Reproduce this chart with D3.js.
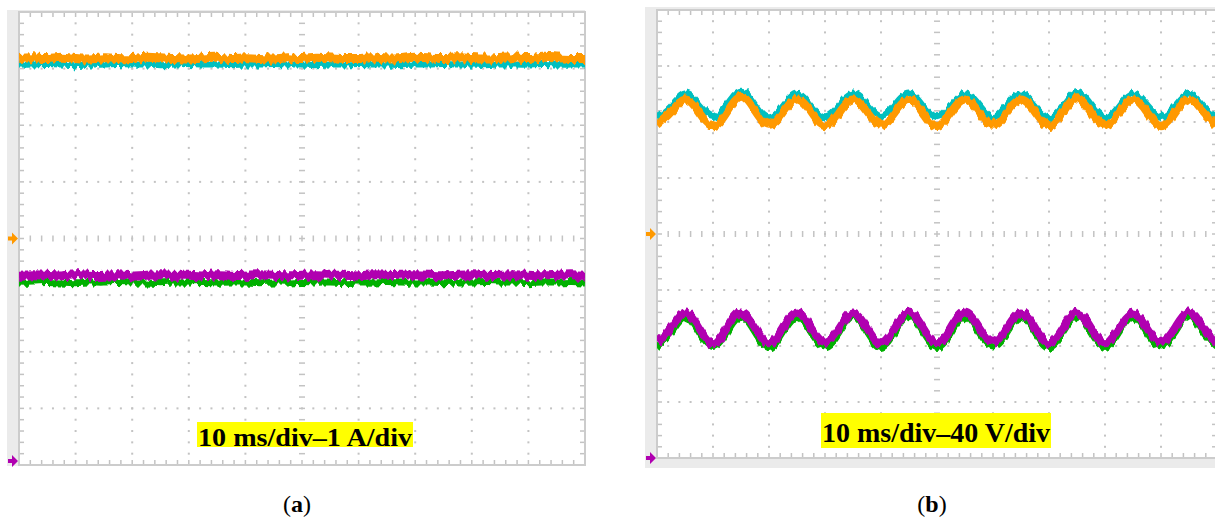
<!DOCTYPE html>
<html>
<head>
<meta charset="utf-8">
<script src="https://cdn.jsdelivr.net/npm/d3@7"></script>
<style>
  html, body { margin: 0; padding: 0; background: #fff; }
  svg { display: block; }
</style>
</head>
<body>
<script>
// Sampling instants, ms (10 ms/div, 10 divisions)
const timeMs = [0,2.5,5,7.5,10,12.5,15,17.5,20,22.5,25,27.5,30,32.5,35,37.5,40,42.5,45,47.5,
  50,52.5,55,57.5,60,62.5,65,67.5,70,72.5,75,77.5,80,82.5,85,87.5,90,92.5,95,97.5,100];

// (a) currents, A (1 A/div)
const aOrange  = [3.18,3.19,3.18,3.20,3.18,3.17,3.19,3.18,3.18,3.20,3.19,3.18,3.17,3.19,3.20,3.18,3.19,3.18,3.17,3.19,
  3.18,3.20,3.19,3.18,3.18,3.19,3.17,3.18,3.20,3.19,3.18,3.19,3.18,3.17,3.18,3.19,3.18,3.20,3.19,3.18,3.18];
const aTeal    = [3.08,3.08,3.09,3.08,3.07,3.08,3.08,3.09,3.08,3.08,3.07,3.08,3.09,3.08,3.08,3.07,3.08,3.08,3.09,3.08,
  3.08,3.07,3.08,3.08,3.09,3.08,3.08,3.07,3.08,3.08,3.09,3.08,3.08,3.07,3.08,3.08,3.08,3.09,3.08,3.08,3.08];
const aMagenta = [3.28,3.29,3.28,3.27,3.29,3.28,3.28,3.29,3.27,3.28,3.29,3.28,3.28,3.27,3.29,3.28,3.28,3.29,3.28,3.27,
  3.28,3.29,3.28,3.28,3.27,3.29,3.28,3.28,3.29,3.28,3.27,3.28,3.29,3.28,3.28,3.29,3.28,3.27,3.28,3.29,3.28];
const aGreen   = [3.16,3.16,3.17,3.16,3.15,3.16,3.16,3.17,3.16,3.16,3.15,3.16,3.16,3.17,3.16,3.16,3.16,3.15,3.16,3.16,
  3.17,3.16,3.16,3.15,3.16,3.16,3.17,3.16,3.16,3.16,3.15,3.16,3.16,3.17,3.16,3.16,3.15,3.16,3.16,3.17,3.16];

// (b) voltages, V (40 V/div), 100 Hz ripple
const bTeal    = [83,91,100,92,84,92,102,92,83,91,100,91,83,91,100,92,84,92,100,91,
  83,91,100,92,83,92,100,91,83,91,101,92,83,91,100,92,84,91,100,91,83];
const bOrange  = [78,87,96,87,77,87,98,88,78,87,96,87,77,87,96,87,78,87,96,87,
  77,87,96,87,78,87,96,87,77,87,97,87,78,87,96,87,77,87,96,87,77];
const bMagenta = [83,93,104,93,82,93,104,93,82,93,104,93,83,93,104,93,82,93,104,93,
  82,93,104,93,83,93,104,93,82,93,104,93,82,93,104,93,83,93,104,93,82];
const bGreen   = [80,90,101,90,79,90,101,90,79,90,101,90,80,90,101,90,79,90,101,90,
  79,90,101,90,80,90,101,90,79,90,101,90,79,90,101,90,80,90,101,90,79];

const scaleLabels = ["10 ms/div\u20131 A/div", "10 ms/div\u201340 V/div"];
const panelCaptions = ["a", "b"];

const colors = { orange: "#ff9900", teal: "#00bfbf", magenta: "#b000b0", green: "#00b000" };

const W = 1215, H = 520;
const svg = d3.select("body").append("svg").attr("width", W).attr("height", H);
svg.append("rect").attr("width", W).attr("height", H).attr("fill", "#fff");

// jagged acquisition noise on the traces (vertical displacement only)
const defs = svg.append("defs");
[3, 7, 11, 17].forEach((seed, i) => {
  const f = defs.append("filter").attr("id", "grain" + i)
    .attr("filterUnits", "userSpaceOnUse").attr("x", 0).attr("y", 0)
    .attr("width", W).attr("height", H)
    .attr("color-interpolation-filters", "sRGB");
  f.append("feTurbulence").attr("type", "fractalNoise")
    .attr("baseFrequency", "0.3 0.03").attr("numOctaves", 1).attr("seed", seed).attr("result", "n");
  f.append("feColorMatrix").attr("in", "n").attr("type", "matrix")
    .attr("values", "1 0 0 0 0  0 0 0 0 0.5  0 0 0 0 0  0 0 0 0 1").attr("result", "m");
  f.append("feDisplacementMap").attr("in", "SourceGraphic").attr("in2", "m")
    .attr("scale", 10).attr("xChannelSelector", "G").attr("yChannelSelector", "R");
});

const panels = [
  { key: "a", perDiv: 1, l: 19, r: 585, t: 12, b: 465,
    frame: { x: 7, y: 10, w: 578, h: 456 }, lowRef: -3.93,
    traces: [[aTeal, colors.teal, 7, 0, 0], [aOrange, colors.orange, 9, 0, 1],
             [aGreen, colors.green, 7, 1, 2], [aMagenta, colors.magenta, 9, 1, 3]],
    label: { x: 197, y: 422, w: 216, h: 25, size: 25, base: 446 },
    caption: { x: 297, y: 512 } },
  { key: "b", perDiv: 40, l: 657, r: 1217, t: 10, b: 458,
    frame: { x: 645, y: 7, w: 580, h: 461 }, lowRef: -4,
    traces: [[bTeal, colors.teal, 7, 0, 0], [bOrange, colors.orange, 8, 0, 1],
             [bGreen, colors.green, 7, 1, 2], [bMagenta, colors.magenta, 8, 1, 3]],
    label: { x: 821, y: 413, w: 230, h: 35, size: 28, base: 442 },
    caption: { x: 932, y: 512 } }
];

const gridCol = "#c3c3c3";

panels.forEach((p, pi) => {
  const g = svg.append("g");
  const x = d3.scaleLinear().domain([0, 100]).range([p.l, p.r]);
  const y = d3.scaleLinear().domain([-4 * p.perDiv, 4 * p.perDiv]).range([p.b, p.t]);

  g.append("rect").attr("x", p.frame.x).attr("y", p.frame.y)
    .attr("width", p.frame.w).attr("height", p.frame.h).attr("fill", "#ebebeb");
  g.append("rect").attr("x", p.l).attr("y", p.t)
    .attr("width", p.r - p.l).attr("height", p.b - p.t).attr("fill", "#fff");

  const minorX = d3.range(0, 51).map(i => i * 2);              // 2 ms steps
  const minorY = d3.range(-20, 21).map(i => i * 0.2 * p.perDiv); // 0.2 div steps
  const majorX = d3.range(0, 11).map(i => i * 10);
  const majorY = d3.range(-4, 5).map(i => i * p.perDiv);

  // dotted graticule
  majorX.filter(v => v !== 0 && v !== 100 && v !== 50).forEach(mx => {
    minorY.slice(1, -1).forEach(my => {
      g.append("rect").attr("x", x(mx) - 1).attr("y", y(my) - 1)
        .attr("width", 2).attr("height", 2).attr("fill", gridCol);
    });
  });
  majorY.filter(v => v !== 0 && Math.abs(v) !== 4 * p.perDiv).forEach(my => {
    minorX.slice(1, -1).forEach(mx => {
      g.append("rect").attr("x", x(mx) - 1).attr("y", y(my) - 1)
        .attr("width", 2).attr("height", 2).attr("fill", gridCol);
    });
  });
  // centre axes with tick dashes
  minorX.slice(1, -1).forEach(mx => {
    g.append("line").attr("x1", x(mx)).attr("x2", x(mx))
      .attr("y1", y(0) - 3).attr("y2", y(0) + 3)
      .attr("stroke", gridCol).attr("stroke-width", 1.5);
  });
  minorY.slice(1, -1).forEach(my => {
    g.append("line").attr("x1", x(50) - 3).attr("x2", x(50) + 3)
      .attr("y1", y(my)).attr("y2", y(my))
      .attr("stroke", gridCol).attr("stroke-width", 1.5);
  });
  // border ticks
  minorX.slice(1, -1).forEach(mx => {
    g.append("line").attr("x1", x(mx)).attr("x2", x(mx)).attr("y1", p.t).attr("y2", p.t + 5)
      .attr("stroke", gridCol).attr("stroke-width", 1.5);
    g.append("line").attr("x1", x(mx)).attr("x2", x(mx)).attr("y1", p.b).attr("y2", p.b - 5)
      .attr("stroke", gridCol).attr("stroke-width", 1.5);
  });
  minorY.slice(1, -1).forEach(my => {
    g.append("line").attr("x1", p.l).attr("x2", p.l + 5).attr("y1", y(my)).attr("y2", y(my))
      .attr("stroke", gridCol).attr("stroke-width", 1.5);
    g.append("line").attr("x1", p.r).attr("x2", p.r - 5).attr("y1", y(my)).attr("y2", y(my))
      .attr("stroke", gridCol).attr("stroke-width", 1.5);
  });
  g.append("rect").attr("x", p.l).attr("y", p.t)
    .attr("width", p.r - p.l).attr("height", p.b - p.t)
    .attr("fill", "none").attr("stroke", "#cccccc").attr("stroke-width", 2);

  // traces
  const clipId = "clip-" + p.key;
  defs.append("clipPath").attr("id", clipId).append("rect")
    .attr("x", p.l).attr("y", p.t).attr("width", p.r - p.l).attr("height", p.b - p.t);
  const tg = g.append("g").attr("clip-path", `url(#${clipId})`);
  p.traces.forEach(([vals, col, sw, low, fi]) => {
    const off = low ? p.lowRef * p.perDiv : 0;
    const line = d3.line()
      .x((d, i) => x(timeMs[i]))
      .y(d => y(d + off))
      .curve(d3.curveNatural);
    tg.append("path").datum(vals).attr("d", line)
      .attr("fill", "none").attr("stroke", col).attr("stroke-width", sw)
      .attr("filter", `url(#grain${fi})`);
  });

  // channel reference markers
  const marker = "M0,0 L-6,-6 L-6,-2 L-10,-2 L-10,2 L-6,2 L-6,6 Z";
  g.append("path").attr("d", marker)
    .attr("transform", `translate(${p.l - 1},${y(0)})`).attr("fill", colors.orange);
  g.append("path").attr("d", marker)
    .attr("transform", `translate(${p.l - 1},${y(p.lowRef * p.perDiv)})`).attr("fill", colors.magenta);

  // scale label
  g.append("rect").attr("x", p.label.x).attr("y", p.label.y)
    .attr("width", p.label.w).attr("height", p.label.h).attr("fill", "#ffff00");
  g.append("text").attr("x", p.label.x + 1).attr("y", p.label.base)
    .attr("font-family", "'Liberation Serif', 'DejaVu Serif', serif")
    .attr("font-weight", "bold").attr("font-size", p.label.size)
    .attr("textLength", p.label.w - 2).attr("lengthAdjust", "spacingAndGlyphs")
    .attr("fill", "#000").text(scaleLabels[pi]);

  // panel caption
  const cap = svg.append("text").attr("x", p.caption.x).attr("y", p.caption.y)
    .attr("text-anchor", "middle")
    .attr("font-family", "'Liberation Serif', 'DejaVu Serif', serif")
    .attr("font-size", 24).attr("fill", "#000");
  cap.append("tspan").text("(");
  cap.append("tspan").attr("font-weight", "bold").text(panelCaptions[pi]);
  cap.append("tspan").text(")");
});
</script>
</body>
</html>
